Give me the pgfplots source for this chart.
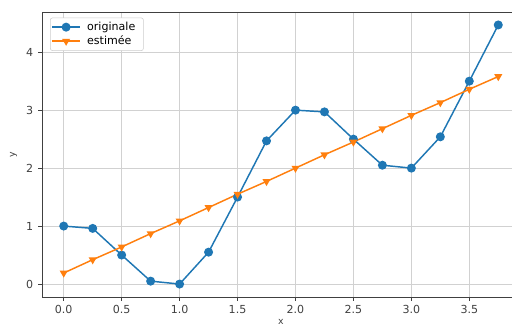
\documentclass[border=0pt]{standalone}
\usepackage{fontspec}
\setmainfont{DejaVu Sans}
\usepackage{pgfplots}
\pgfplotsset{compat=1.18}
\definecolor{tabblue}{HTML}{1F77B4}
\definecolor{taborange}{HTML}{FF7F0E}
\begin{document}
\begin{tikzpicture}
\begin{axis}[
  at={(31.5pt,22.5pt)}, anchor=south west,
  scale only axis, width=358.5pt, height=213.75pt,
  xmin=-0.1875, xmax=3.9375, ymin=-0.2235, ymax=4.6935,
  axis x line=box, axis y line*=left,
  axis line style={black!75, line width=0.6pt},
  xtick={0,0.5,...,3.5}, ytick={0,1,2,3,4},
  xticklabel style={/pgf/number format/fixed, /pgf/number format/fixed zerofill, /pgf/number format/precision=1},
  /pgf/number format/assume math mode=true,
  tick label style={font=\fontsize{8.3}{10}\selectfont, text=black!75},
  tick align=outside, major tick length=3pt,
  tick style={black!75, line width=0.6pt},
  xtick pos=bottom, ytick pos=left,
  grid=major, grid style={black!18, line width=0.6pt},
  xlabel={x}, ylabel={y},
  label style={font=\fontsize{7}{8}\selectfont, text=black!75},
  xlabel style={yshift=3pt},
  legend style={font=\fontsize{8.3}{10}\selectfont, draw=black!20, rounded corners=1.5pt, at={(0.017,0.98)}, anchor=north west, inner sep=1pt, row sep=-1.5pt, nodes={inner xsep=5pt}},
  legend image code/.code={\draw[mark repeat=2,mark phase=2,#1] plot coordinates {(0cm,0cm) (0.36cm,0cm) (0.72cm,0cm)};},
  legend cell align=left,
]
\addplot[color=tabblue, line width=1.1pt, mark=*, mark size=2.8pt] coordinates {
 (0,1.0) (0.25,0.96) (0.5,0.5) (0.75,0.05) (1.0,0.0) (1.25,0.55) (1.5,1.5) (1.75,2.47)
 (2.0,3.0) (2.25,2.97) (2.5,2.5) (2.75,2.05) (3.0,2.0) (3.25,2.54) (3.5,3.5) (3.75,4.47)};
\addlegendentry{originale}
\addplot[color=taborange, line width=1.1pt, mark=triangle*, mark size=2.4pt, mark options={rotate=180}] coordinates {
 (0,0.19) (0.25,0.42) (0.5,0.64) (0.75,0.87) (1.0,1.09) (1.25,1.32) (1.5,1.55) (1.75,1.77)
 (2.0,2.0) (2.25,2.23) (2.5,2.45) (2.75,2.68) (3.0,2.91) (3.25,3.13) (3.5,3.36) (3.75,3.58)};
\addlegendentry{estimée}
\end{axis}
\pgfresetboundingbox
\useasboundingbox (0,0) rectangle (384pt,245.25pt);
\end{tikzpicture}
\end{document}
